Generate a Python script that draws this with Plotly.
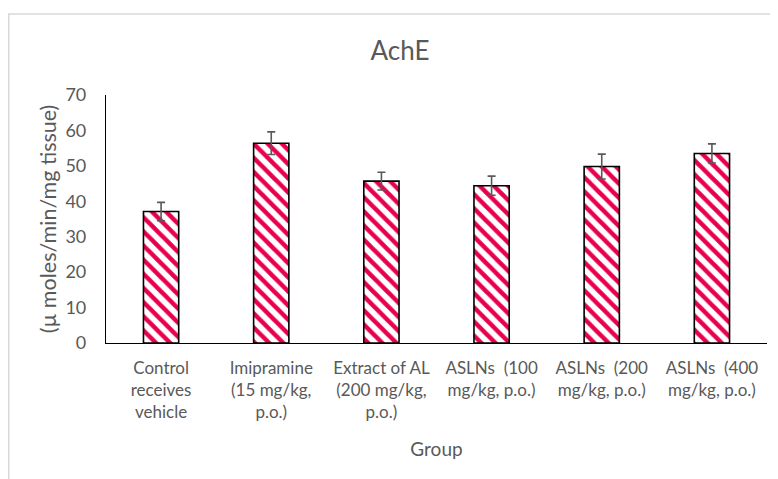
import plotly.graph_objects as go

categories = [
    "Control<br>receives<br>vehicle",
    "Imipramine<br>(15 mg/kg,<br>p.o.)",
    "Extract of AL<br>(200 mg/kg,<br>p.o.)",
    "ASLNs  (100<br>mg/kg, p.o.)",
    "ASLNs  (200<br>mg/kg, p.o.)",
    "ASLNs  (400<br>mg/kg, p.o.)",
]
values = [37.1, 56.4, 45.7, 44.4, 49.8, 53.5]
errors = [2.6, 3.2, 2.5, 2.7, 3.5, 2.7]
y_ticks = [0, 10, 20, 30, 40, 50, 60, 70]

FONT = "Lato, 'Open Sans', sans-serif"
GRAY = "#595959"

# page body adds an 8px offset; compensate in margins
OFF = 8
L, R_EDGE, T, B_EDGE = 106 - OFF, 767 - OFF, 95 - OFF, 343 - OFF
PW = R_EDGE - L
PH = B_EDGE - T

fig = go.Figure()
fig.add_trace(go.Bar(
    x=categories,
    y=values,
    error_y=dict(type="data", array=errors, color=GRAY, thickness=1.6, width=4),
    marker=dict(
        color="white",
        line=dict(color="black", width=1.6),
        pattern=dict(shape="\\", fgcolor="#E8004F", bgcolor="white", fgopacity=1,
                     size=10, solidity=0.45, fillmode="overlay"),
    ),
    showlegend=False,
))

fig.update_layout(
    width=778, height=479,
    margin=dict(l=L, r=778 - R_EDGE, t=T, b=479 - B_EDGE),
    paper_bgcolor="white", plot_bgcolor="white",
    bargap=0.68,
    font=dict(family=FONT, color=GRAY, size=17),
    title=dict(text="AchE", x=(400 - 106) / PW, xref="paper", xanchor="center",
               y=1 - (51 - OFF) / 479, yanchor="middle", yref="container",
               font=dict(size=26, color=GRAY, family=FONT)),
    xaxis=dict(
        showline=True, linecolor="black", linewidth=1.4,
        ticks="", ticklabelstandoff=9,
        tickfont=dict(size=17, color=GRAY),
        title=dict(text="Group", standoff=21, font=dict(size=19, color=GRAY)),
        automargin=False,
    ),
    yaxis=dict(
        range=[0, 70], tickvals=y_ticks,
        showline=True, linecolor="black", linewidth=1.2,
        showgrid=False, zeroline=False, ticks="",
        ticklabelstandoff=15,
        tickfont=dict(size=18, color=GRAY),
        title=dict(text="(µ moles/min/mg tissue)", standoff=2,
                   font=dict(size=21.5, color=GRAY)),
        automargin=False,
    ),
)

# light chart-area frame (extends past right/bottom edges)
fig.add_shape(type="rect", xref="paper", yref="paper",
              x0=(0.75 - L) / PW, x1=1.2, y0=-0.8, y1=1 + (95 - 14) / PH,
              line=dict(color="#d9d9d9", width=1.5), fillcolor="rgba(0,0,0,0)",
              layer="below")

fig.write_html("out.html")
